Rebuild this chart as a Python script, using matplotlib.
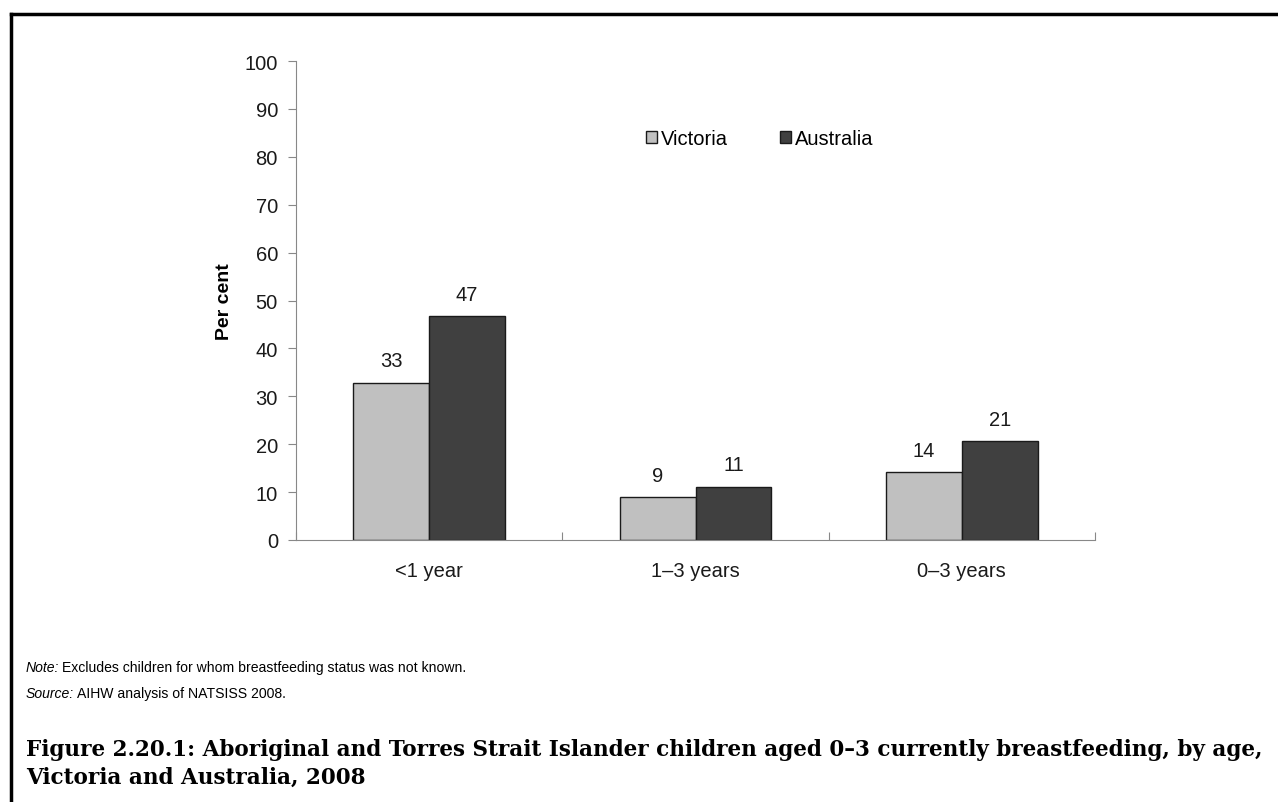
import matplotlib.pyplot as plt
import numpy as np
from matplotlib.lines import Line2D

# Data
categories = ['<1 year', '1\u20133 years', '0\u20133 years']
victoria = [32.8, 8.9, 14.1]
australia = [46.7, 11.1, 20.6]
victoria_labels = ['33', '9', '14']
australia_labels = ['47', '11', '21']

plt.rcParams['font.family'] = ['Liberation Sans', 'DejaVu Sans']

fig = plt.figure(figsize=(12.78, 8.03), dpi=100)
ax = fig.add_axes([296 / 1278, 1 - 541 / 803, (1095 - 296) / 1278, (541 - 62) / 803])

x = np.arange(len(categories))
w = 0.285
vic_bars = ax.bar(x - w / 2, victoria, w, color='#c0c0c0', edgecolor='#1a1a1a', linewidth=1, label='Victoria')
aus_bars = ax.bar(x + w / 2, australia, w, color='#404040', edgecolor='#1a1a1a', linewidth=1, label='Australia')

for bars, labels in [(vic_bars, victoria_labels), (aus_bars, australia_labels)]:
    for bar, lab in zip(bars, labels):
        ax.annotate(lab, (bar.get_x() + bar.get_width() / 2, bar.get_height()),
                    xytext=(0, 9), textcoords='offset points', ha='center', va='bottom',
                    fontsize=14.5, color='#1a1a1a')

ax.set_xlim(-0.5, 2.5)
ax.set_ylim(0, 100)
ax.set_yticks(range(0, 101, 10))
ax.set_xticks([-0.5, 0.5, 1.5, 2.5], minor=False)
ax.set_xticklabels([])
ax.set_xticks(x, minor=True)
ax.set_xticklabels(categories, minor=True, fontsize=14.5, color='#1a1a1a')
ax.tick_params(axis='x', which='minor', length=0, pad=15)
ax.tick_params(axis='x', which='major', length=6, color='#888888', direction='in')
ax.tick_params(axis='y', length=6, color='#888888', labelsize=14.5, labelcolor='#1a1a1a', pad=7)
for s in ['top', 'right']:
    ax.spines[s].set_visible(False)
for s in ['left', 'bottom']:
    ax.spines[s].set_color('#888888')
ax.set_ylabel('Per cent', fontsize=14, fontweight='bold', labelpad=8)

ax.legend(loc='upper left', bbox_to_anchor=(0.415, 0.895), ncol=2, frameon=False,
          fontsize=14.5, handlelength=0.55, handleheight=0.55, handletextpad=0.2, columnspacing=2.6)

# Notes and caption
fig.text(26 / 1278, 1 - 668 / 803, 'Note:', fontsize=10.1, style='italic', va='center')
fig.text(62 / 1278, 1 - 668 / 803, 'Excludes children for whom breastfeeding status was not known.', fontsize=10.1, va='center')
fig.text(26 / 1278, 1 - 694 / 803, 'Source:', fontsize=10.1, style='italic', va='center')
fig.text(77 / 1278, 1 - 694 / 803, 'AIHW analysis of NATSISS 2008.', fontsize=10.1, va='center')
fig.text(26 / 1278, 1 - 764 / 803,
         'Figure 2.20.1: Aboriginal and Torres Strait Islander children aged 0\u20133 currently breastfeeding, by age,\nVictoria and Australia, 2008',
         fontsize=15.5, fontweight='bold', family=['DejaVu Serif'], va='center', linespacing=1.3)

# Frame lines (top and left)
fig.add_artist(Line2D([11 / 1278, 1.0], [1 - 15 / 803, 1 - 15 / 803], color='black', lw=2.5))
fig.add_artist(Line2D([11 / 1278, 11 / 1278], [1 - 15 / 803, 0], color='black', lw=2.5))

fig.savefig('out.png', dpi=100)
